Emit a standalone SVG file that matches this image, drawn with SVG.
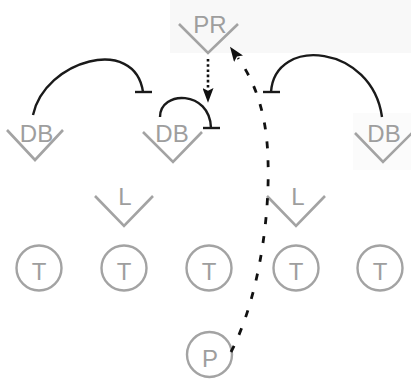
<svg xmlns="http://www.w3.org/2000/svg" width="411" height="381" viewBox="0 0 411 381">
<style>
.v{fill:none;stroke:#a3a3a3;stroke-width:2.6;stroke-linejoin:miter}
.c{fill:none;stroke:#a3a3a3;stroke-width:2.4}
.t{font-family:"Liberation Sans",Arial,sans-serif;font-size:24px;fill:#9e9e9e;text-anchor:middle}
.arc{fill:none;stroke:#1a1a1a;stroke-width:2.4}
.bar{stroke:#1a1a1a;stroke-width:2.4}
.dot{fill:none;stroke:#111;stroke-width:2.6;stroke-dasharray:2.6 2.6}
.dash{fill:none;stroke:#111;stroke-width:2.8;stroke-dasharray:7 12}
</style>
<defs>
<marker id="ah" viewBox="0 0 16 12" refX="1" refY="6" markerWidth="16" markerHeight="11" markerUnits="userSpaceOnUse" orient="auto">
<path d="M0,0 L16,6 L0,12 L3,6 z" fill="#111"/>
</marker>
</defs>
<rect width="411" height="381" fill="#ffffff"/>
<rect x="170" y="0" width="241" height="53" fill="#f8f8f8"/>
<rect x="353" y="113" width="58" height="57" fill="#fbfbfb"/>
<g id="PR"><path class="v" d="M179,24 L208,53 L238,24"/><text class="t" x="210" y="33">PR</text></g>
<g id="DB1"><path class="v" d="M7,130 L35,160 L63,130"/><text class="t" x="36.5" y="142">DB</text></g>
<g id="DB2"><path class="v" d="M143,132 L173,162 L202,132"/><text class="t" x="172" y="142">DB</text></g>
<g id="DB3"><path class="v" d="M355,133 L383,162 L412,133"/><text class="t" x="384" y="142">DB</text></g>
<g id="L1"><path class="v" d="M95,196 L124,226 L153,196"/><text class="t" x="125" y="205">L</text></g>
<g id="L2"><path class="v" d="M267,196 L296,226 L325,196"/><text class="t" x="298" y="205">L</text></g>
<g id="T1"><circle class="c" cx="39" cy="268" r="22.5"/><text class="t" x="39" y="280">T</text></g>
<g id="T2"><circle class="c" cx="124" cy="268" r="22.5"/><text class="t" x="124" y="280">T</text></g>
<g id="T3"><circle class="c" cx="209" cy="268" r="22.5"/><text class="t" x="209" y="280">T</text></g>
<g id="T4"><circle class="c" cx="296" cy="268" r="22.5"/><text class="t" x="296" y="280">T</text></g>
<g id="T5"><circle class="c" cx="380" cy="268" r="22.5"/><text class="t" x="380" y="280">T</text></g>
<g id="P"><circle class="c" cx="209.5" cy="354.5" r="22.5"/><text class="t" x="210" y="367">P</text></g>
<g id="connectors">
<path class="arc" d="M33,115 C45,60 135,35 143,92"/>
<line class="bar" x1="135" y1="92" x2="152" y2="92"/>
<path class="arc" d="M160,117 C160,90 210,90 211,128"/>
<line class="bar" x1="203" y1="128" x2="220" y2="128"/>
<path class="arc" d="M382,117 C372,45 275,35 271,92"/>
<line class="bar" x1="263" y1="92" x2="280" y2="92"/>
<line class="dot" x1="208" y1="59" x2="208" y2="89" marker-end="url(#ah)"/>
<path class="dash" d="M231,352 C258,300 270,220 268,160 C267,120 258,86 238,58" marker-end="url(#ah)"/>
</g>
</svg>
